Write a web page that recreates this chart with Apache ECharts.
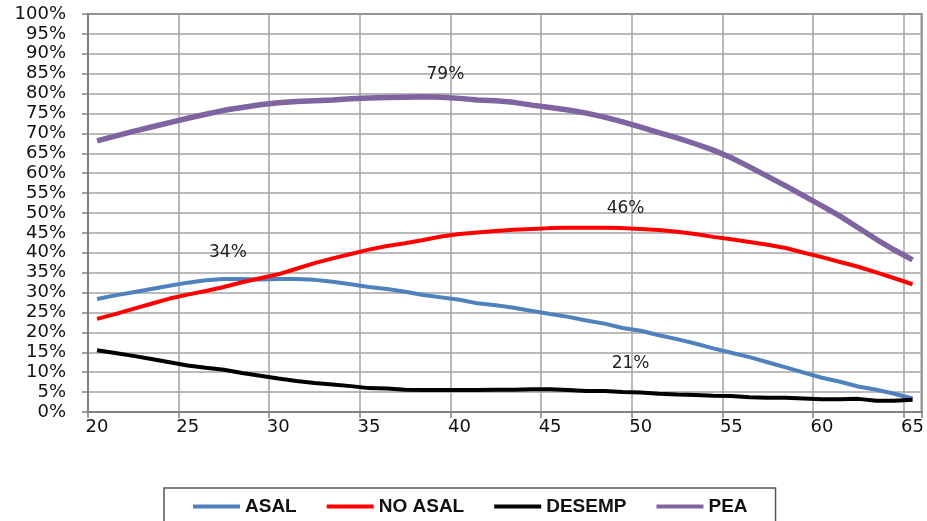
<!DOCTYPE html>
<html>
<head>
<meta charset="utf-8">
<script src="https://cdn.jsdelivr.net/npm/echarts@6/dist/echarts.min.js"></script>
<style>
  html, body { margin: 0; padding: 0; background: #ffffff; }
  #chart { width: 927px; height: 521px; }
</style>
</head>
<body>
<div id="chart"></div>
<script>
// Categories: age
const ages = ['20','21','22','23','24','25','26','27','28','29','30','31','32','33','34','35','36','37','38','39','40','41','42','43','44','45','46','47','48','49','50','51','52','53','54','55','56','57','58','59','60','61','62','63','64','65'];

// Series values (%)
const asal = [28.4,29.3,30.1,30.9,31.7,32.5,33.1,33.4,33.4,33.3,33.4,33.4,33.2,32.7,32.1,31.4,30.9,30.2,29.4,28.8,28.2,27.3,26.8,26.2,25.4,24.6,23.9,23.0,22.2,21.1,20.4,19.3,18.3,17.2,16.0,14.9,13.8,12.5,11.2,9.9,8.6,7.6,6.4,5.6,4.6,3.4];
const noAsal = [23.4,24.6,25.9,27.2,28.5,29.5,30.4,31.4,32.6,33.6,34.6,36.0,37.4,38.6,39.7,40.8,41.7,42.4,43.2,44.1,44.7,45.1,45.5,45.8,46.0,46.2,46.3,46.3,46.3,46.2,46.0,45.7,45.3,44.7,44.0,43.4,42.7,42.0,41.2,40.0,38.9,37.7,36.5,35.1,33.6,32.1];
const desemp = [15.5,14.8,14.1,13.3,12.5,11.7,11.1,10.6,9.8,9.1,8.4,7.8,7.3,6.9,6.5,6.0,5.9,5.6,5.5,5.5,5.5,5.5,5.6,5.6,5.7,5.7,5.5,5.3,5.3,5.0,4.9,4.6,4.4,4.3,4.1,4.0,3.7,3.6,3.6,3.4,3.2,3.2,3.3,2.8,2.8,3.1];
const pea = [68.1,69.3,70.5,71.6,72.7,73.8,74.8,75.8,76.5,77.2,77.7,78.0,78.2,78.4,78.7,78.9,79.0,79.1,79.2,79.1,78.8,78.4,78.2,77.8,77.1,76.5,75.9,75.1,74.1,72.9,71.6,70.2,68.9,67.4,65.8,63.9,61.6,59.2,56.8,54.3,51.8,49.2,46.3,43.4,40.7,38.2];

// Series names
const names = ['ASAL', 'NO ASAL', 'DESEMP', 'PEA'];

// Annotation texts
const noteAsal = '34%';
const noteNoAsal = '46%';
const noteDesemp = '21%';
const notePea = '79%';

const chart = echarts.init(document.getElementById('chart'), null, { renderer: 'canvas' });

const noteLabel = {
  show: true,
  position: 'inside',
  fontFamily: 'DejaVu Sans',
  fontSize: 17,
  color: '#222222',
  formatter: p => p.name
};
function note(cat, val, text, dx) {
  return {
    symbol: 'circle',
    symbolSize: 1,
    itemStyle: { color: 'rgba(0,0,0,0)' },
    label: noteLabel,
    data: [{ name: text, coord: [cat, val], label: { offset: [dx, 0] } }]
  };
}

const option = {
  animation: false,
  backgroundColor: '#ffffff',
  grid: {
    left: 88, right: 3, top: 14, bottom: 109,
    show: true,
    borderColor: '#6e6e6e',
    borderWidth: 2,
    backgroundColor: 'transparent'
  },
  legend: {
    data: names,
    left: 164,
    top: 488,
    icon: 'rect',
    itemWidth: 47,
    itemHeight: 4,
    itemGap: 30,
    padding: [9, 28, 30, 29],
    borderColor: '#555555',
    borderWidth: 1.5,
    textStyle: {
      fontFamily: 'Liberation Sans',
      fontWeight: 'bold',
      fontSize: 19,
      color: '#111111'
    }
  },
  xAxis: {
    type: 'category',
    data: ages,
    boundaryGap: true,
    axisLine: { show: true, lineStyle: { color: '#808080', width: 2 } },
    axisTick: { show: true, interval: 4, length: 6, lineStyle: { color: '#808080', width: 1.5 } },
    axisLabel: {
      interval: 4,
      margin: 6,
      fontFamily: 'DejaVu Sans',
      fontSize: 18,
      color: '#111111'
    },
    splitLine: { show: true, interval: 4, lineStyle: { color: '#a3a3a3', width: 1.5 } }
  },
  yAxis: {
    type: 'value',
    min: 0,
    max: 100,
    interval: 5,
    axisLine: { show: true, lineStyle: { color: '#808080', width: 2 } },
    axisTick: { show: true, length: 6, lineStyle: { color: '#808080', width: 1.5 } },
    axisLabel: {
      formatter: '{value}%',
      margin: 22,
      fontFamily: 'DejaVu Sans',
      fontSize: 18,
      color: '#111111'
    },
    splitLine: { show: true, lineStyle: { color: '#a3a3a3', width: 1.5 } }
  },
  series: [
    {
      name: names[0], type: 'line', data: asal, showSymbol: false, smooth: false,
      color: '#4f81bd', lineStyle: { width: 4, color: '#4f81bd' },
      markPoint: note('27', 40.0, noteAsal, 4)
    },
    {
      name: names[1], type: 'line', data: noAsal, showSymbol: false,
      color: '#ff0000', lineStyle: { width: 4, color: '#ff0000' },
      markPoint: note('49', 51.0, noteNoAsal, 3)
    },
    {
      name: names[2], type: 'line', data: desemp, showSymbol: false,
      color: '#000000', lineStyle: { width: 4, color: '#000000' },
      markPoint: note('49', 12.1, noteDesemp, 8)
    },
    {
      name: names[3], type: 'line', data: pea, showSymbol: false,
      color: '#8064a2', lineStyle: { width: 5.5, color: '#8064a2' },
      markPoint: note('39', 84.7, notePea, 4)
    }
  ]
};
chart.setOption(option);
</script>
</body>
</html>
